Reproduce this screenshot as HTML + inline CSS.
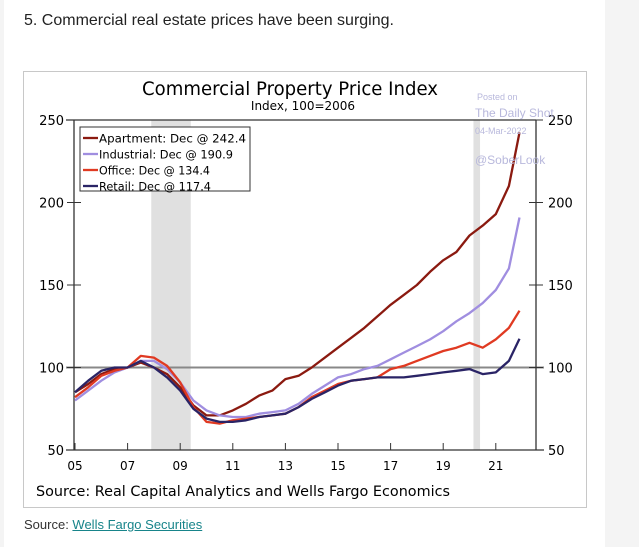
<!DOCTYPE html>
<html><head><meta charset="utf-8"><style>
body{margin:0;width:639px;height:547px;background:#fff;position:relative;overflow:hidden;font-family:"Liberation Sans",sans-serif}
</style></head><body>
<div style="position:absolute;left:0;top:0;width:4px;height:547px;background:#f4f4f4"></div>
<div style="position:absolute;left:605px;top:0;width:34px;height:547px;background:#f4f4f4"></div>
<div style="position:absolute;left:24px;top:12px;font-size:16px;color:#222">5. Commercial real estate prices have been surging.</div>
<div style="position:absolute;left:24px;top:517px;font-size:13px;color:#333">Source: <a style="color:#17848a;text-decoration:underline">Wells Fargo Securities</a></div>
<svg style="position:absolute;left:0;top:0" width="639" height="547">
<rect x="23.5" y="71.5" width="563" height="436" fill="#fff" stroke="#c8c8c8"/>
<g id="g"></g>
</svg>
<script>
const years=[2005,2005.5,2006,2006.5,2007,2007.5,2008,2008.5,2009,2009.5,2010,2010.5,2011,2011.5,2012,2012.5,2013,2013.5,2014,2014.5,2015,2015.5,2016,2016.5,2017,2017.5,2018,2018.5,2019,2019.5,2020,2020.5,2021,2021.5,2021.9];
const apartment=[85,90,96,99,100,103,100,96,88,77,71,71,74,78,83,86,93,95,100,106,112,118,124,131,138,144,150,158,165,170,180,186,193,210,242.4];
const industrial=[80,86,92,97,100,104,104,99,91,80,74,71,70,70,72,73,74,78,84,89,94,96,99,101,105,109,113,117,122,128,133,139,147,160,190.9];
const office=[82,88,95,98,100,107,106,101,91,76,67,66,68,69,70,71,72,76,82,86,90,92,93,94,99,101,104,107,110,112,115,112,117,124,134.4];
const retail=[85,92,98,100,100,104,100,94,86,75,69,67,67,68,70,71,72,76,81,85,89,92,93,94,94,94,95,96,97,98,99,96,97,104,117.4];
const yTicks=[50,100,150,200,250];
const xTicks=[2005,2007,2009,2011,2013,2015,2017,2019,2021];
const xTickLabels=["05","07","09","11","13","15","17","19","21"];
const recessions=[[2007.9,2009.4],[2020.15,2020.4]];
const legendLabels=["Apartment: Dec @ 242.4","Industrial: Dec @ 190.9","Office: Dec @ 134.4","Retail: Dec @ 117.4"];
const X=v=>75+(v-2005)*26.3, Y=v=>450-(v-50)*1.65;
const L=74,R=536,T=Y(250),B=Y(50);
const g=document.getElementById('g');let h='';
recessions.forEach(r=>{h+=`<rect x="${X(r[0])}" y="${T}" width="${X(r[1])-X(r[0])}" height="${B-T}" fill="#e0e0e0"/>`;});
h+=`<line x1="${L-8}" x2="${R+8}" y1="${Y(100)}" y2="${Y(100)}" stroke="#888" stroke-width="2"/>`;
h+=`<line x1="${L-8}" x2="${R}" y1="${T}" y2="${T}" stroke="#333" stroke-width="1.3"/>`;
h+=`<line x1="${L}" x2="${L}" y1="${T}" y2="${B}" stroke="#333" stroke-width="1.3"/>`;
h+=`<line x1="${R}" x2="${R}" y1="${T}" y2="${B}" stroke="#333" stroke-width="1.3"/>`;
h+=`<line x1="${L-8}" x2="${R+8}" y1="${B}" y2="${B}" stroke="#333" stroke-width="1.3"/>`;
yTicks.forEach(t=>{const y=Y(t);
h+=`<line x1="${L-7}" x2="${L+7}" y1="${y}" y2="${y}" stroke="#333"/><line x1="${R-7}" x2="${R+7}" y1="${y}" y2="${y}" stroke="#333"/>`;
h+=`<text x="${L-10}" y="${y+5}" text-anchor="end" font-family="DejaVu Sans,sans-serif" font-size="13">${t}</text>`;
h+=`<text x="${R+12}" y="${y+5}" font-family="DejaVu Sans,sans-serif" font-size="13">${t}</text>`;});
xTicks.forEach((t,i)=>{const x=X(t);
h+=`<line x1="${x}" x2="${x}" y1="${B-7}" y2="${B}" stroke="#333"/>`;
h+=`<text x="${x}" y="${B+20}" text-anchor="middle" font-family="DejaVu Sans,sans-serif" font-size="12">${xTickLabels[i]}</text>`;});
const series=[[apartment,"#8b1a10","apartment-line"],[industrial,"#a08ee0","industrial-line"],[office,"#e03a22","office-line"],[retail,"#2a2466","retail-line"]];
series.forEach(s=>{const d=s[0].map((v,i)=>(i?'L':'M')+X(years[i]).toFixed(1)+','+Y(v).toFixed(1)).join('');
h+=`<path d="${d}" fill="none" stroke="${s[1]}" stroke-width="2.3" stroke-linejoin="round"/>`;});
h+=`<rect x="80" y="127" width="170" height="64" fill="#fff" stroke="#333"/>`;
legendLabels.forEach((l,i)=>{const y=138+i*16;
h+=`<g><line x1="83" x2="98" y1="${y}" y2="${y}" stroke="${series[i][1]}" stroke-width="2.3"/><text x="99" y="${y+4.5}" font-family="DejaVu Sans,sans-serif" font-size="11.6" textLength="${[147,134,111,112][i]}" lengthAdjust="spacingAndGlyphs">${l}</text></g>`;});
h+=`<text x="290" y="95" text-anchor="middle" font-family="DejaVu Sans,sans-serif" font-size="19" textLength="296" lengthAdjust="spacingAndGlyphs">Commercial Property Price Index</text>`;
h+=`<text x="303" y="110" text-anchor="middle" font-family="DejaVu Sans,sans-serif" font-size="12">Index, 100=2006</text>`;
h+=`<g fill="#b8b8dc" font-family="Liberation Sans,sans-serif"><text x="477" y="100" font-size="9">Posted on</text><text x="475" y="117" font-size="12">The Daily Shot</text><text x="475" y="134" font-size="9">04-Mar-2022</text><text x="475" y="164" font-size="12">@SoberLook</text></g>`;
h+=`<text x="36" y="496" font-family="DejaVu Sans,sans-serif" font-size="14.5" textLength="414" lengthAdjust="spacingAndGlyphs">Source: Real Capital Analytics and Wells Fargo Economics</text>`;
g.innerHTML=h;
</script>
</body></html>
